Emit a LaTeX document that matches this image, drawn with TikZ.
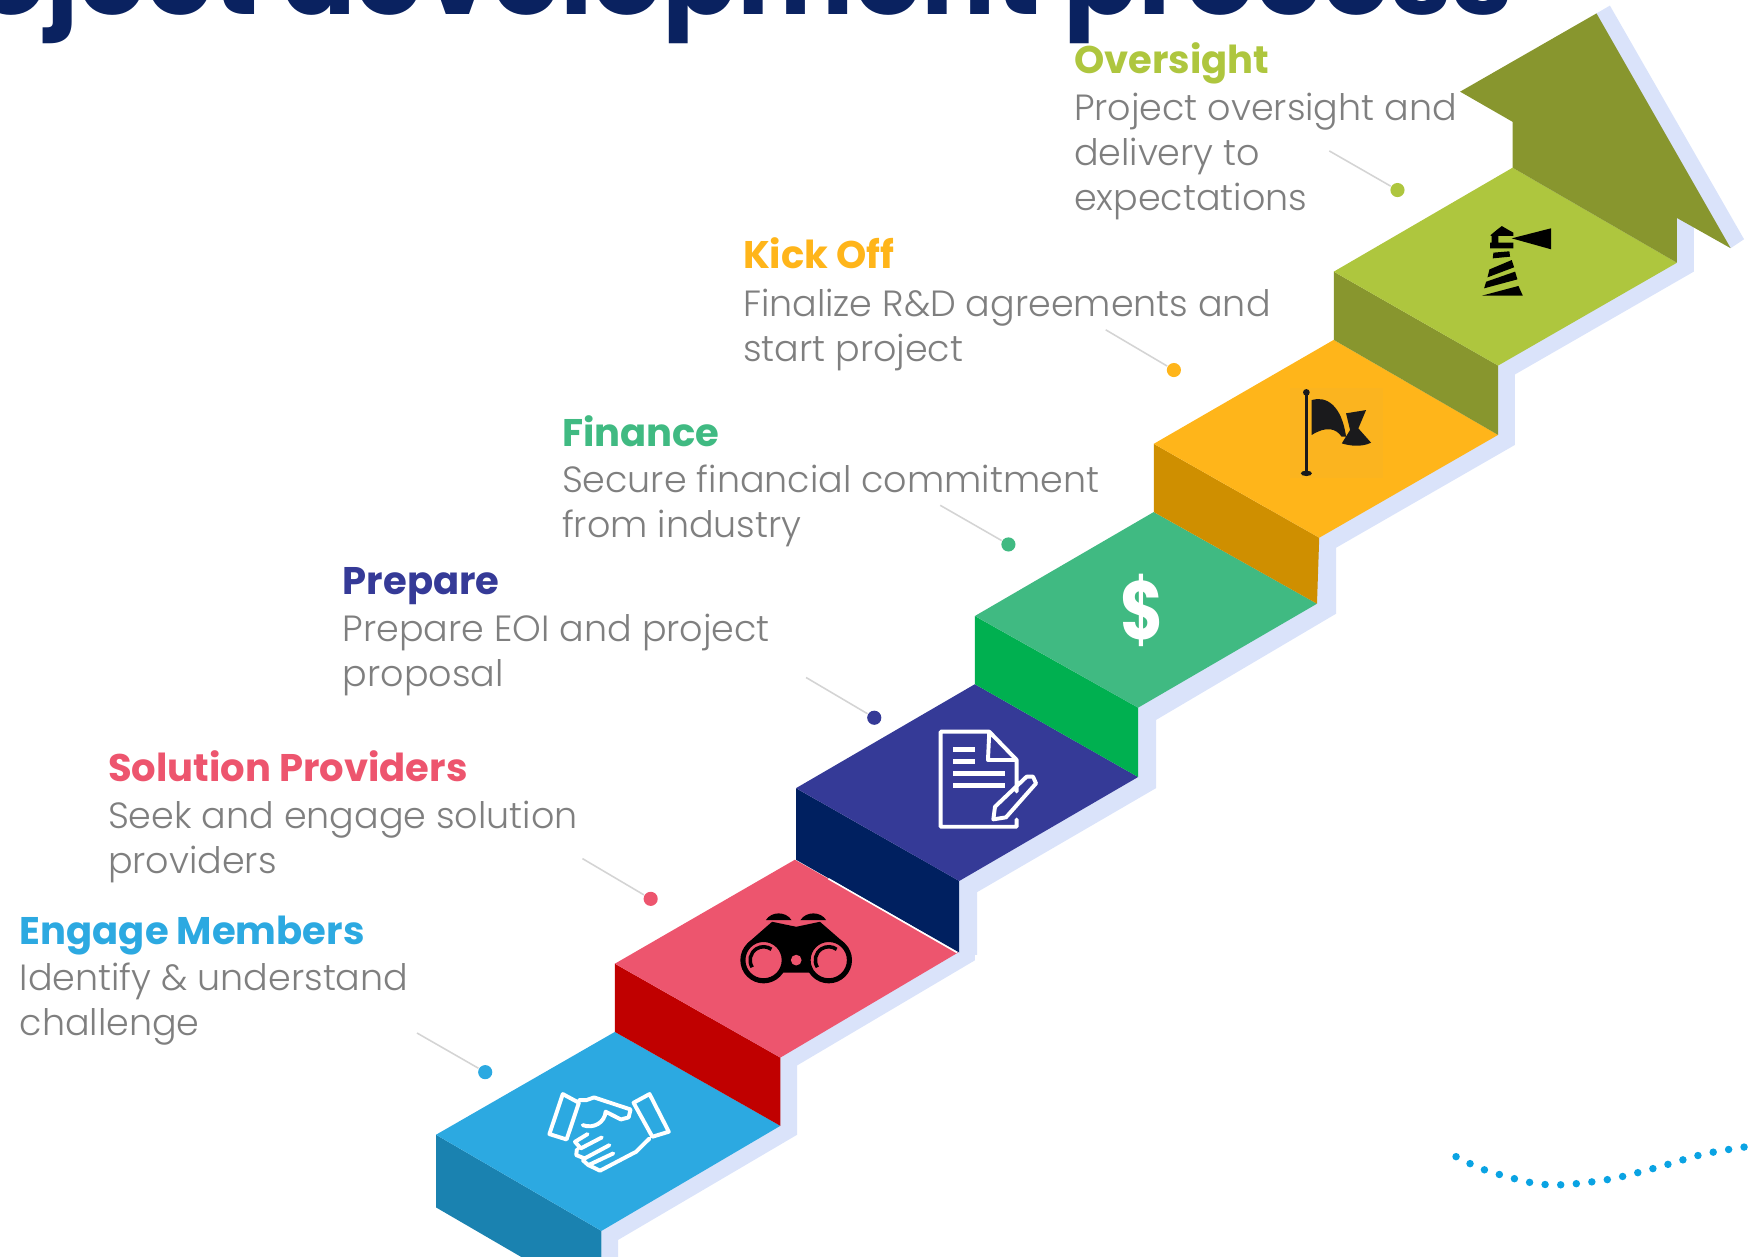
\documentclass[tikz,border=0pt]{standalone}
\usepackage{fontspec}
\setmainfont{Poppins}
\newfontfamily\lightfont{Poppins Light}
\definecolor{skyblue}{HTML}{2CA9E1}
\definecolor{skyside}{HTML}{1A82B0}
\definecolor{rosetop}{HTML}{ED556E}
\definecolor{roseside}{HTML}{C00000}
\definecolor{indigotop}{HTML}{353A97}
\definecolor{indigoside}{HTML}{002060}
\definecolor{greentop}{HTML}{40BA82}
\definecolor{greenside}{HTML}{00B050}
\definecolor{ambertop}{HTML}{FFB51A}
\definecolor{amberside}{HTML}{CF8F00}
\definecolor{limetop}{HTML}{AEC63E}
\definecolor{limeside}{HTML}{88962E}
\definecolor{paleback}{HTML}{DAE3FA}
\definecolor{titlenavy}{HTML}{0A2260}
\definecolor{bodygrey}{HTML}{7F7F7F}
\definecolor{leadergrey}{HTML}{D4D4D4}
\definecolor{wavedots}{HTML}{0AA3E3}
\definecolor{flagblack}{HTML}{1A1A1C}
\definecolor{flagsquare}{HTML}{FBB41F}
\tikzset{
    stephead/.style={anchor=base west, inner sep=0pt, font=\bfseries\fontsize{9.8}{11.4}\selectfont},
    steptext/.style={anchor=base west, inner sep=0pt, align=left, text=bodygrey, font=\lightfont\fontsize{9.28}{11.4}\selectfont},
    leaderdot/.style={circle, inner sep=0pt, minimum size=3.6pt},
    leaderline/.style={draw=leadergrey, line width=0.4pt},
    whiteicon/.style={draw=white, line width=1pt, line join=round, line cap=round},
}
\begin{document}
\begin{tikzpicture}[x=0.1mm, y=-0.1mm]
    \useasboundingbox (0, 0) rectangle (1568, 1124.3);
    \clip (0, 0) rectangle (1568, 1124.3);

    \node[anchor=base east, inner sep=0pt, text=titlenavy, font=\bfseries\fontsize{28}{30}\selectfont] (title) at (1354, 13) {Project development process};

    \fill[paleback]
    (1428, 12) -- (1440, 5) -- (1560, 214) -- (1548, 222) -- (1515, 203)
        -- (1515, 243) -- (1355, 335) -- (1355, 398) -- (1195, 490)
        -- (1195, 549) -- (1034, 644) -- (1034, 705) -- (874, 798)
        -- (874, 854) -- (872, 854) -- (872, 859) -- (713, 953)
        -- (713, 1015) -- (553, 1109) -- (553, 1130) -- (538, 1130)
        -- (538, 1000) -- (1300, 300) -- cycle;

    \fill[skyside] (390, 1015) -- (538, 1101) -- (538, 1130) -- (476, 1130) -- (390, 1080) -- cycle;
    \fill[skyblue] (390, 1015) -- (550, 923) -- (698, 1007) -- (538, 1101) -- cycle;

    \fill[roseside] (550, 862) -- (698, 946) -- (698, 1007) -- (550, 923) -- cycle;
    \fill[rosetop] (550, 862) -- (711, 769) -- (857, 852) -- (698, 946) -- cycle;

    \fill[indigoside] (712, 705) -- (858, 788) -- (858, 852) -- (712, 769) -- cycle;
    \draw[white, line width=0.4pt] (741, 786) -- (856, 852);
    \fill[indigotop] (712, 705) -- (872, 612) -- (1018, 695) -- (858, 788) -- cycle;

    \fill[greenside] (872, 551) -- (1018, 633) -- (1018, 695) -- (872, 612) -- cycle;
    \fill[greentop] (872, 551) -- (1032, 458) -- (1178, 540) -- (1018, 633) -- cycle;

    \fill[amberside] (1032, 397) -- (1180, 481) -- (1178, 540) -- (1032, 458) -- cycle;
    \fill[ambertop] (1032, 397) -- (1193, 304) -- (1340, 389) -- (1180, 481) -- cycle;

    \fill[limeside] (1193, 243) -- (1340, 327) -- (1340, 389) -- (1193, 304) -- cycle;
    \fill[limetop] (1193, 243) -- (1353, 150) -- (1500, 235) -- (1340, 327) -- cycle;

    \fill[limeside] (1353, 150) -- (1500, 235) -- (1500, 195) -- (1548, 222)
        -- (1428, 12) -- (1306, 82) -- (1353, 109) -- cycle;

    % handshake
    \draw[whiteicon]
    (503.4, 978.6) -- (517.8, 986.4) -- (506.8, 1019.2) -- (491.4, 1014.4) -- cycle
    (581, 978.6) -- (598.2, 1012.3) -- (583.5, 1016.8) -- (566.7, 986.4) -- cycle
    (517.8, 984) -- (524.6, 984) -- (531.4, 981.6) -- (564, 992.4) -- (562.3, 999.5) -- (555.4, 1001.3) -- (541.7, 994.4)
        .. controls (541, 1004) and (531, 1010) .. (521.2, 1006.4)
    (581, 1018.3) -- (569, 1030.2) -- (536.6, 1047.2) -- (532.5, 1045.1) -- (526.3, 1042.2) -- (521.2, 1037.7)
    (525.6, 1014.4) -- (514.3, 1021.3) -- (519.5, 1027.2) -- (538.3, 1017.4)
    (516, 1028.1) -- (515.4, 1033.2) -- (522.9, 1036.2) -- (545.1, 1024.3)
    (526.3, 1042.2) -- (548.6, 1031.7);

    % binoculars
    \fill[black]
    (668.4, 843.9) -- (690.6, 824.5) -- (712.2, 829) -- (733.4, 824.5) -- (755.7, 843.9) -- (741, 870) -- (683, 870) -- cycle
    (685, 823) .. controls (690, 815) and (703, 815) .. (708, 823) -- cycle
    (716, 823) .. controls (721, 815) and (734, 815) .. (739, 823) -- cycle;
    \draw[black, fill=rosetop, line width=1.3pt] (683, 858.8) circle (18.5) (741.3, 858.8) circle (18.5);
    \draw[black, line width=0.9pt] (672.8, 865.2) arc (148:306:12) (731.1, 865.2) arc (148:306:12);
    \fill[rosetop] (712.2, 858.8) circle (4.8);

    % document
    \draw[whiteicon]
    (909.4, 708) -- (909.4, 679.8) -- (884.9, 654.5) -- (841.4, 654.5) -- (841.4, 739.5) -- (909.4, 739.5) -- (909.4, 733)
    (884.9, 654.5) -- (883.7, 679.8) -- (909.4, 679.8)
    (888.5, 732.9) -- (890, 721.6) -- (918.3, 694.7) -- (924, 694.7) -- (926.7, 700.7) -- (899.8, 731.1) -- cycle;
    \draw[white, line width=1.2pt]
    (852.7, 670.3) -- (872.1, 670.3)
    (852.7, 681) -- (872.1, 681)
    (852.7, 691.7) -- (899, 691.7)
    (852.7, 702.5) -- (899, 702.5);

    % dollar
    \node[inner sep=0pt, text=white, font=\bfseries\fontsize{21}{21}\selectfont] (dollar) at (1022, 546) {\scalebox{0.8}[1]{\$}};

    % flag
    \fill[flagsquare] (1154, 347) rectangle (1237, 428);
    \draw[flagblack, line width=0.7pt] (1168.5, 351) -- (1168.5, 423.4);
    \fill[flagblack]
    (1168.5, 351) circle (3)
    (1168.5, 423.4) ellipse (5 and 2.4)
    (1173.3, 357.8) .. controls (1186, 354) and (1200, 362) .. (1204, 390.6)
        -- (1200, 390.6) .. controls (1195, 383) and (1186, 381) .. (1173.3, 389.1) -- cycle
    (1204, 369.7) -- (1221.9, 366.8) -- (1215, 383.2) -- (1226.4, 396)
        .. controls (1218, 400) and (1208, 399) .. (1200.2, 396.6) -- (1207.6, 384.6) -- cycle;

    % lighthouse
    \fill[black]
    (1352.2, 213.2) -- (1387.4, 204.2) -- (1387.4, 223) -- cycle
    (1333.4, 210.2) -- (1338.8, 205.7) -- (1343.3, 202.2) -- (1349.3, 205.7) -- (1353.7, 208.1) -- (1353.7, 211.1) -- (1333.4, 211.1) -- cycle
    (1334.3, 211.1) rectangle (1340.3, 217.7)
    (1332.8, 217.1) rectangle (1353.7, 222.1)
    (1335.8, 226) -- (1350.1, 224.8) -- (1350.7, 229.6) -- (1335.2, 231.1) -- cycle
    (1332.3, 241) -- (1352.2, 232.6) -- (1354.3, 239.1) -- (1330.5, 248.1) -- cycle
    (1329.3, 252) -- (1355.2, 243) -- (1357.3, 249.9) -- (1327.5, 257.9) -- cycle
    (1325.4, 264.5) -- (1358.2, 255.8) -- (1362.1, 264.5) -- cycle;

    \node[stephead, text=skyblue] (engagehead) at (17, 845) {Engage Members};
    \node[steptext] (engagetext) at (17, 926) {Identify \& understand\\challenge};
    \node[stephead, text=rosetop] (solutionhead) at (96, 699) {Solution Providers};
    \node[steptext] (solutiontext) at (96, 781) {Seek and engage solution\\providers};
    \node[stephead, text=indigotop] (preparehead) at (306, 532) {Prepare};
    \node[steptext] (preparetext) at (306, 614) {Prepare EOI and project\\proposal};
    \node[stephead, text=greentop] (financehead) at (502, 399) {Finance};
    \node[steptext] (financetext) at (502, 481) {Secure financial commitment\\from industry};
    \node[stephead, text=ambertop] (kickhead) at (664, 240) {Kick Off};
    \node[steptext] (kicktext) at (664, 323) {Finalize R\&D agreements and\\start project};
    \node[stephead, text=limetop] (oversighthead) at (960, 66) {Oversight};
    \node[steptext] (oversighttext) at (960, 188) {Project oversight and\\delivery to\\expectations};

    \node[leaderdot, fill=skyblue] (engagedot) at (434, 959) {};
    \node[leaderdot, fill=rosetop] (solutiondot) at (582, 804) {};
    \node[leaderdot, fill=indigotop] (preparedot) at (782, 642) {};
    \node[leaderdot, fill=greentop] (financedot) at (902, 487) {};
    \node[leaderdot, fill=ambertop] (kickdot) at (1050, 331) {};
    \node[leaderdot, fill=limetop] (oversightdot) at (1250, 170) {};

    \coordinate (engagefree) at (373, 924);
    \coordinate (solutionfree) at (521, 768);
    \coordinate (preparefree) at (721, 606);
    \coordinate (financefree) at (841, 452);
    \coordinate (kickfree) at (989, 295);
    \coordinate (oversightfree) at (1189, 135);

    \draw[leaderline] (engagefree) -- (engagedot);
    \draw[leaderline] (solutionfree) -- (solutiondot);
    \draw[leaderline] (preparefree) -- (preparedot);
    \draw[leaderline] (financefree) -- (financedot);
    \draw[leaderline] (kickfree) -- (kickdot);
    \draw[leaderline] (oversightfree) -- (oversightdot);

    \draw[wavedots, line width=1.9pt, line cap=round, dash pattern=on 0pt off 3.98pt]
    plot[smooth] coordinates {(1302.4, 1034.6) (1328.4, 1046.6) (1369.8, 1057.9) (1398.2, 1059.7) (1440.8, 1054.6) (1482.5, 1044.2) (1523.9, 1032.3) (1566, 1025.1) (1590, 1022)};
\end{tikzpicture}
\end{document}
